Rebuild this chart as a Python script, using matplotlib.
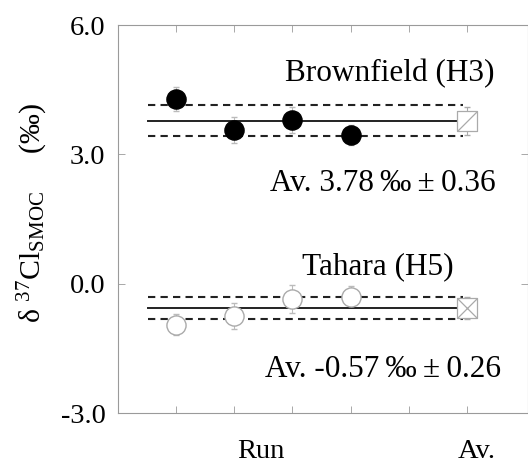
import matplotlib.pyplot as plt
import matplotlib as mpl
from matplotlib.path import Path

mpl.rcParams['font.family'] = ['Liberation Serif', 'DejaVu Serif']
mpl.rcParams['mathtext.fontset'] = 'custom'
mpl.rcParams['mathtext.rm'] = 'Liberation Serif'
mpl.rcParams['mathtext.it'] = 'Liberation Serif:italic'

# runs
runs = [1, 2, 3, 4]
av_x = 6

# Brownfield (H3)
brown = [4.28, 3.56, 3.80, 3.45]
brown_err = [0.28, 0.30, 0.30, 0.23]
brown_av = 3.78
brown_sd = 0.36

# Tahara (H5)
tahara = [-0.95, -0.76, -0.35, -0.30]
tahara_err = [0.25, 0.30, 0.33, 0.25]
tahara_av = -0.57
tahara_sd = 0.26

fig = plt.figure(figsize=(5.28, 4.65), dpi=100)
ax = fig.add_axes([118/528, 52/465, 410/528, 388/465])

grey = '#9a9a9a'

# error bars
ax.errorbar(runs, brown, yerr=brown_err, fmt='none', ecolor='#bbbbbb', elinewidth=0.8, capsize=2)
ax.errorbar(runs, tahara, yerr=tahara_err, fmt='none', ecolor='#bbbbbb', elinewidth=0.8, capsize=2)
ax.errorbar([av_x], [brown_av], yerr=[brown_sd * 0.9], fmt='none', ecolor='#aaaaaa', elinewidth=0.8, capsize=2)
ax.errorbar([av_x], [tahara_av], yerr=[tahara_sd], fmt='none', ecolor='#aaaaaa', elinewidth=0.8, capsize=2)

# mean and +/- sd lines
for av, sd in [(brown_av, brown_sd), (tahara_av, tahara_sd)]:
    ax.plot([0.52, 5.86], [av, av], color='#222222', lw=1.4, zorder=3)
    ax.plot([0.52, 5.93], [av + sd, av + sd], color='#222222', lw=1.5, ls=(0, (3.5, 2.5)), zorder=3)
    ax.plot([0.52, 5.93], [av - sd, av - sd], color='#222222', lw=1.5, ls=(0, (3.5, 2.5)), zorder=3)

# run points
ax.plot(runs, brown, 'o', ms=13.8, mfc='black', mec='black', zorder=4)
ax.plot(runs, tahara, 'o', ms=13.8, mfc='white', mec='#aaaaaa', mew=1.0, zorder=4)

# average markers: square with diagonal(s)
box_slash = Path([(-1, -1), (1, -1), (1, 1), (-1, 1), (-1, -1), (-1, -1), (1, 1)],
                 [Path.MOVETO, Path.LINETO, Path.LINETO, Path.LINETO, Path.CLOSEPOLY,
                  Path.MOVETO, Path.LINETO])
box_cross = Path([(-1, -1), (1, -1), (1, 1), (-1, 1), (-1, -1),
                  (-1, -1), (1, 1), (-1, 1), (1, -1)],
                 [Path.MOVETO, Path.LINETO, Path.LINETO, Path.LINETO, Path.CLOSEPOLY,
                  Path.MOVETO, Path.LINETO, Path.MOVETO, Path.LINETO])
ax.plot([av_x], [brown_av], marker=box_slash, ms=14.4, mfc='white', mec='#aaaaaa', mew=0.9, ls='none', zorder=4)
ax.plot([av_x], [tahara_av], marker=box_cross, ms=14.4, mfc='white', mec='#aaaaaa', mew=0.9, ls='none', zorder=4)

# labels inside
fs = 22.5
ax.text(2.88, 4.69, 'Brownfield (H3)', ha='left', va='baseline', fontsize=fs)
ax.text(2.62, 2.16, 'Av. 3.78\u2009‰\u2009±\u20090.36', ha='left', va='baseline', fontsize=fs)
ax.text(3.17, 0.22, 'Tahara (H5)', ha='left', va='baseline', fontsize=fs)
ax.text(2.53, -2.16, 'Av. -0.57\u2009‰\u2009±\u20090.26', ha='left', va='baseline', fontsize=fs)

ax.set_xlim(0, 7.05)
ax.set_ylim(-3.0, 6.0)
ax.set_xticks([1, 2, 3, 4, 5, 6])
ax.set_xticklabels([])
ax.set_yticks([-3.0, 0.0, 3.0, 6.0])
ax.set_yticklabels(['-3.0', '0.0', '3.0', '6.0'], fontsize=20.5)
ax.tick_params(direction='in', top=True, right=True, length=5, width=0.6, color=grey, pad=9)
for sp in ax.spines.values():
    sp.set_color(grey)
    sp.set_linewidth(0.8)

ax.text(2.45, -4.04, 'Run', ha='center', va='baseline', fontsize=20.5)
ax.text(6.16, -4.04, 'Av.', ha='center', va='baseline', fontsize=20.5)

ax.set_ylabel('δ $^{37}$Cl$_{\\rm SMOC}$     (‰)', fontsize=21.5)
ax.yaxis.set_label_coords(-0.165, 0.515)

fig.savefig('out.png', dpi=100)
